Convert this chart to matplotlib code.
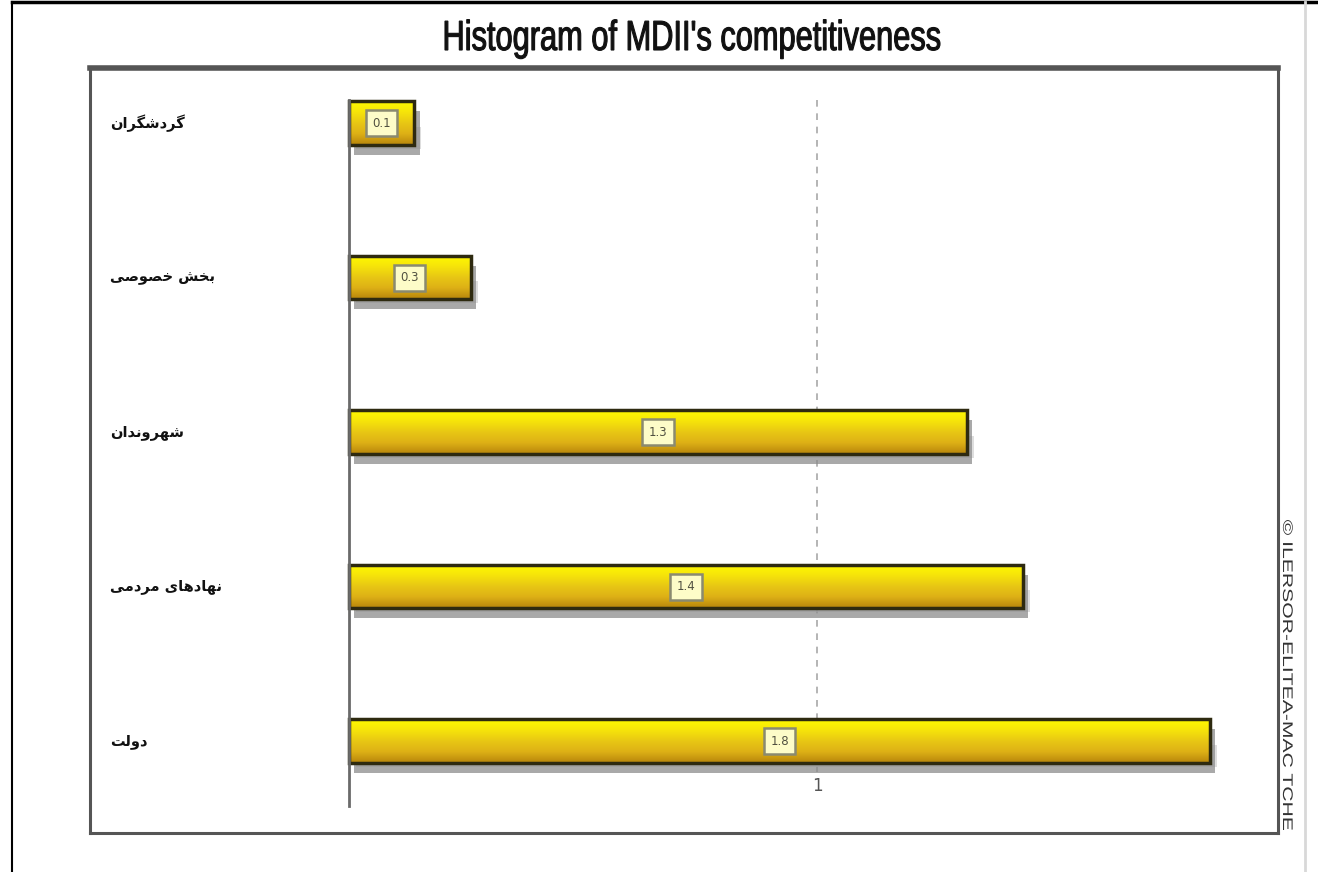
import numpy as np
import matplotlib
matplotlib.use("Agg")
import matplotlib.pyplot as plt
from matplotlib.lines import Line2D
from matplotlib.colors import LinearSegmentedColormap
from matplotlib.textpath import TextPath
from matplotlib.patches import PathPatch
from matplotlib.font_manager import FontProperties
from matplotlib.transforms import Affine2D

# Competitiveness scores per stakeholder group (top to bottom)
groups = ["گردشگران", "بخش خصوصی", "شهروندان", "نهادهای مردمی", "دولت"]
scores = [0.14, 0.26, 1.32, 1.44, 1.84]
x_ticks = [1]
title = "Histogram of MDII's competitiveness"
credit = "© ILERSOR-ELITEA-MAC TCHE"

# Arabic-script shaping: isolated, final, initial, medial forms
FORMS = {
    "ا": ("\uFE8D", "\uFE8E", None, None),
    "ب": ("\uFE8F", "\uFE90", "\uFE91", "\uFE92"),
    "ت": ("\uFE95", "\uFE96", "\uFE97", "\uFE98"),
    "خ": ("\uFEA5", "\uFEA6", "\uFEA7", "\uFEA8"),
    "د": ("\uFEA9", "\uFEAA", None, None),
    "ر": ("\uFEAD", "\uFEAE", None, None),
    "ش": ("\uFEB5", "\uFEB6", "\uFEB7", "\uFEB8"),
    "ص": ("\uFEB9", "\uFEBA", "\uFEBB", "\uFEBC"),
    "ل": ("\uFEDD", "\uFEDE", "\uFEDF", "\uFEE0"),
    "م": ("\uFEE1", "\uFEE2", "\uFEE3", "\uFEE4"),
    "ن": ("\uFEE5", "\uFEE6", "\uFEE7", "\uFEE8"),
    "ه": ("\uFEE9", "\uFEEA", "\uFEEB", "\uFEEC"),
    "و": ("\uFEED", "\uFEEE", None, None),
    "گ": ("\uFB92", "\uFB93", "\uFB94", "\uFB95"),
    "ی": ("\uFBFC", "\uFBFD", "\uFBFE", "\uFBFF"),
}


def shape_rtl(text):
    out = []
    for i, ch in enumerate(text):
        if ch not in FORMS:
            out.append(ch)
            continue
        prev = text[i - 1] if i > 0 else None
        nxt = text[i + 1] if i + 1 < len(text) else None
        join_prev = prev in FORMS and FORMS[prev][2] is not None
        join_next = nxt in FORMS and FORMS[ch][2] is not None
        iso, fin, ini, med = FORMS[ch]
        if join_prev and join_next:
            out.append(med)
        elif join_prev:
            out.append(fin)
        elif join_next:
            out.append(ini)
        else:
            out.append(iso)
    return "".join(reversed(out))


def narrow_text(fig, s, x, y, em_px, width_px, rotation=0, color="#111111", lw=0):
    # squeeze a text outline to a given pixel width (condensed look)
    path = TextPath((0, 0), s, size=1, prop=FontProperties(family="Liberation Sans"))
    bb = path.get_extents()
    tr = (Affine2D().translate(-bb.x0, 0).scale(width_px / bb.width, em_px)
          .rotate_deg(rotation).translate(x, y))
    fig.add_artist(PathPatch(path, transform=tr, fc=color, ec=color, lw=lw))


W, H = 1318, 872
fig = plt.figure(figsize=(W / 100, H / 100), dpi=100)
ax = fig.add_axes([0.0683, 0.0447, 0.9014, 0.8773])

bar_h = 0.28
shadow_dx, shadow_dy = 0.011, 0.045
yellow = LinearSegmentedColormap.from_list(
    "gold", ["#fffa00", "#f6e40a", "#e8c714", "#ddb016", "#b8860c"])
grad = np.linspace(0, 1, 64).reshape(-1, 1)

# dashed reference line at 1
ax.plot([1, 1], [-0.15, 4.2], color="#a8a8a8", lw=1.2, ls=(0, (4, 4)), zorder=1)

for i, v in enumerate(scores):
    # soft drop shadow
    ax.barh(i + shadow_dy + 0.02, v, height=bar_h, left=shadow_dx,
            color="#8c8c8c", alpha=0.75, zorder=2, lw=0)
    ax.barh(i + shadow_dy + 0.05, v, height=bar_h * 0.5, left=shadow_dx + 0.004,
            color="#c8c8c8", alpha=0.6, zorder=1.9, lw=0)
    # gradient fill
    ax.imshow(grad, cmap=yellow, aspect="auto", zorder=3,
              extent=[0, v, i + bar_h / 2, i - bar_h / 2])
    ax.barh(i, v, height=bar_h, fill=False, edgecolor="#2e2a10", lw=2.5, zorder=4)
    ax.text(v / 2, i, f"{v:.1f}", ha="center", va="center", fontsize=8.5,
            color="#505040", zorder=5,
            bbox=dict(boxstyle="square,pad=0.55", fc="#fdfcc8", ec="#8a8a70", lw=1.8))
    ax.text(0.0168, i, shape_rtl(groups[i]), transform=ax.get_yaxis_transform(),
            ha="left", va="center", fontsize=10.5, fontweight="bold", color="#111111")

# value axis line and tick label
ax.plot([0, 0], [-0.15, 4.42], color="#6a6a6a", lw=2, zorder=6)
for t in x_ticks:
    ax.text(t, 4.29, str(t), ha="center", va="center", fontsize=12, color="#555555")

ax.set_xlim(-0.553, 1.985)
ax.set_ylim(4.595, -0.356)
ax.set_xticks([])
ax.set_yticks([])
for side in ["left", "right", "bottom"]:
    ax.spines[side].set_color("#555555")
    ax.spines[side].set_linewidth(2.2)
ax.spines["top"].set_color("#555555")
ax.spines["top"].set_linewidth(4)

narrow_text(fig, title, 445, H - 50, 42, 495, lw=0.8)
narrow_text(fig, credit, 1283, H - 520, 14, 310, rotation=-90, color="#333333")

# page border
fig.add_artist(Line2D([0.0091, 1], [0.9975, 0.9975], color="black", lw=2.5))
fig.add_artist(Line2D([0.0091, 0.0091], [0, 0.9975], color="black", lw=1.5))
fig.add_artist(Line2D([0.990, 0.990], [0, 0.9975], color="#d8d8d8", lw=2))

fig.savefig("out.png", dpi=100)
